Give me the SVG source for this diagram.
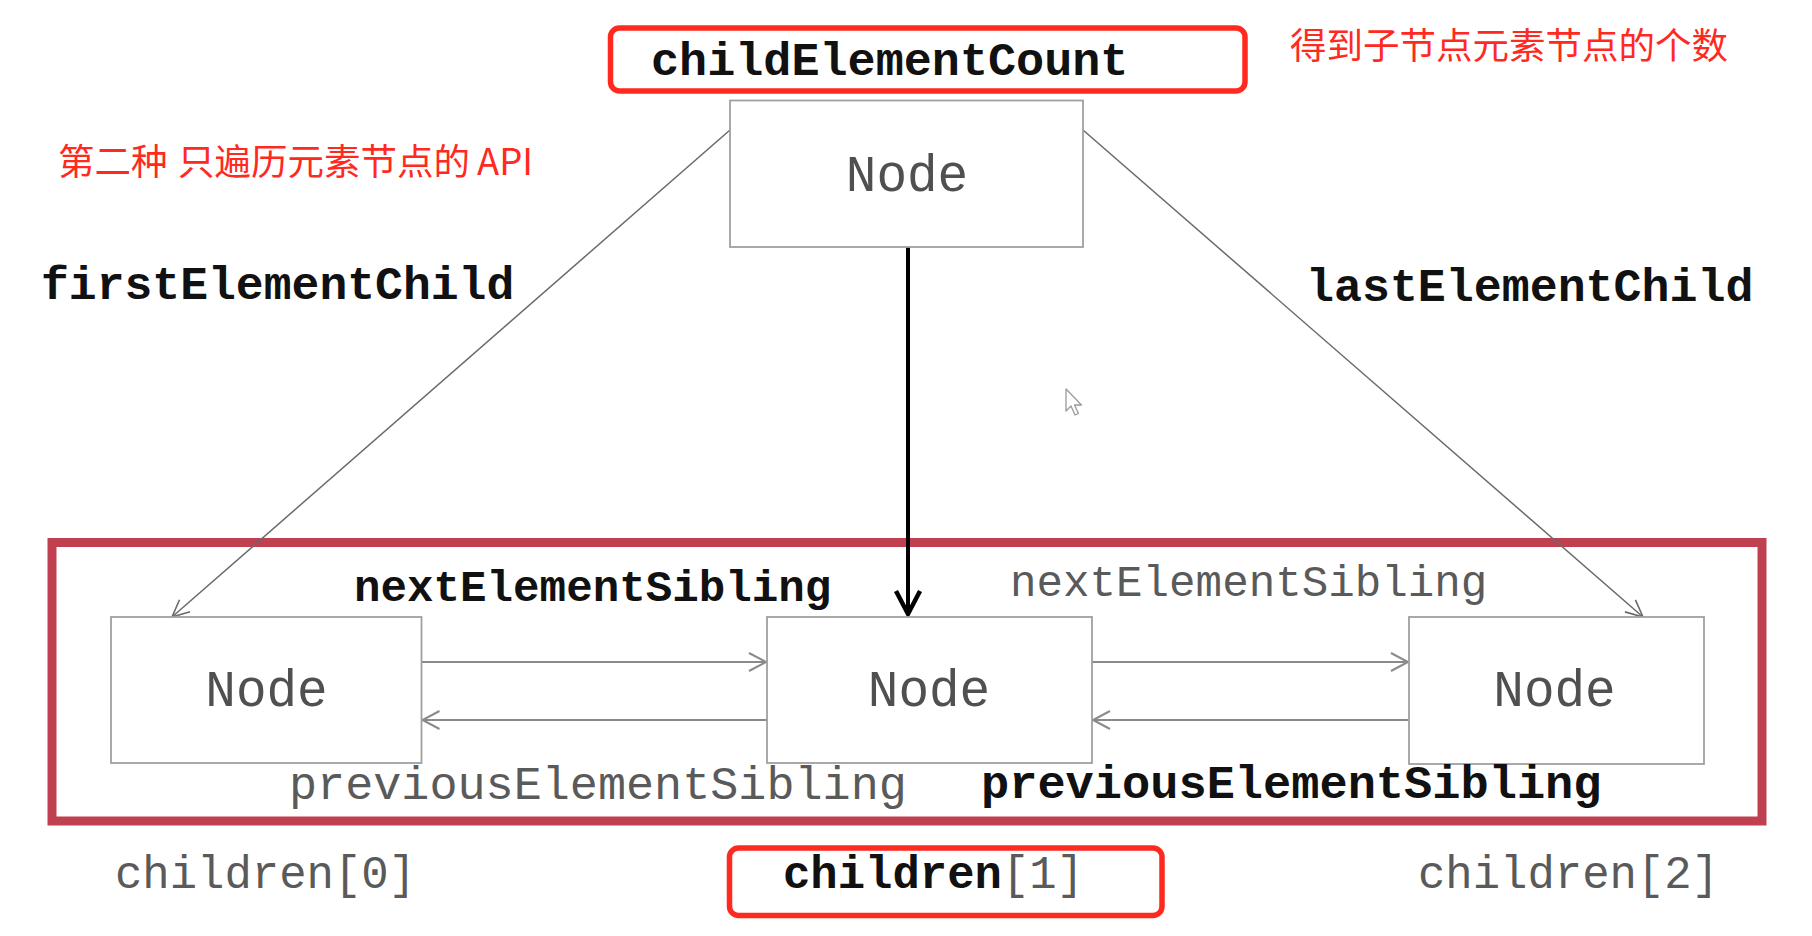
<svg xmlns="http://www.w3.org/2000/svg" width="1812" height="936" viewBox="0 0 1812 936">
  <style>
    .node { fill: #ffffff; stroke: #a0a0a0; stroke-width: 1.8; }
    .nodeText { font-family: "Liberation Mono", "Courier New", monospace; font-size: 51px; fill: #505050; }
    .mono { font-family: "Liberation Mono", "Courier New", monospace; }
    .bold { font-weight: bold; fill: #111111; }
    .reg { font-weight: normal; fill: #5a5a5a; }
    .cjk { font-family: "Noto Sans CJK SC", "Noto Sans", sans-serif; font-size: 36.5px; fill: #ff2a1f; }
    .hl { fill: none; stroke: #ff2a1f; stroke-width: 5.5; }
    .thin { fill: none; stroke: #8a8a8a; stroke-width: 1.8; }
    .diag { fill: none; stroke: #6a6a6a; stroke-width: 1.5; }
    .thick { fill: none; stroke: #000000; stroke-width: 4; }
  </style>
  <defs>
    <marker id="arrGray" markerUnits="userSpaceOnUse" markerWidth="24" markerHeight="24" viewBox="-20 -12 24 24" refX="0" refY="0" orient="auto">
      <path d="M -17 -9 L 0 0 L -17 9" fill="none" stroke="#8a8a8a" stroke-width="2"/>
    </marker>
    <marker id="arrDiag" markerUnits="userSpaceOnUse" markerWidth="24" markerHeight="24" viewBox="-20 -12 24 24" refX="0" refY="0" orient="auto">
      <path d="M -17 -8 L 0 0 L -17 8" fill="none" stroke="#6a6a6a" stroke-width="1.6"/>
    </marker>
    <marker id="arrBlack" markerUnits="userSpaceOnUse" markerWidth="34" markerHeight="34" viewBox="-28 -16 34 32" refX="0" refY="0" orient="auto">
      <path d="M -23 -12 L 0 0 L -23 12" fill="none" stroke="#000000" stroke-width="4.5"/>
    </marker>
  </defs>

  <rect x="0" y="0" width="1812" height="936" fill="#ffffff"/>

  <!-- group container (children) -->
  <g id="children-container">
    <rect x="52" y="542.5" width="1710" height="278.5" fill="none" stroke="#c0404f" stroke-width="9"/>
  </g>

  <!-- connectors -->
  <g id="connectors">
    <line class="diag" x1="730" y1="130" x2="172" y2="617" marker-end="url(#arrDiag)"/>
    <line class="diag" x1="1083" y1="130" x2="1643" y2="617" marker-end="url(#arrDiag)"/>
    <line class="thick" x1="908" y1="247" x2="908" y2="614" marker-end="url(#arrBlack)"/>
    <line class="thin" x1="421.5" y1="662" x2="766" y2="662" marker-end="url(#arrGray)"/>
    <line class="thin" x1="767" y1="720" x2="422.5" y2="720" marker-end="url(#arrGray)"/>
    <line class="thin" x1="1092" y1="662" x2="1408" y2="662" marker-end="url(#arrGray)"/>
    <line class="thin" x1="1409" y1="720" x2="1093" y2="720" marker-end="url(#arrGray)"/>
  </g>

  <!-- nodes -->
  <g id="node-parent">
    <rect class="node" x="730" y="100.5" width="353" height="146.5"/>
    <text class="nodeText" x="907" y="191" text-anchor="middle">Node</text>
  </g>
  <g id="node-child0">
    <rect class="node" x="111" y="617" width="310.5" height="146"/>
    <text class="nodeText" x="266.5" y="706" text-anchor="middle">Node</text>
  </g>
  <g id="node-child1">
    <rect class="node" x="767" y="617" width="325" height="146"/>
    <text class="nodeText" x="929" y="706" text-anchor="middle">Node</text>
  </g>
  <g id="node-child2">
    <rect class="node" x="1409" y="617" width="295" height="147"/>
    <text class="nodeText" x="1554.5" y="706" text-anchor="middle">Node</text>
  </g>

  <!-- highlight boxes -->
  <g id="childElementCount-box">
    <rect class="hl" x="610.5" y="28" width="634.5" height="63" rx="9" ry="9"/>
    <text class="mono bold" x="651" y="75" font-size="46.8">childElementCount</text>
  </g>
  <g id="children1-box">
    <rect class="hl" x="729.5" y="848" width="432.5" height="67.5" rx="9" ry="9"/>
    <text class="mono" x="783" y="888" font-size="45.6"><tspan class="bold">children</tspan><tspan class="reg">[1]</tspan></text>
  </g>

  <!-- labels -->
  <g id="labels">
    <text class="cjk" x="1290" y="59">得到子节点元素节点的个数</text>
    <text class="cjk" y="175"><tspan x="58">第二种</tspan><tspan x="178">只遍历元素节点的</tspan><tspan x="477">API</tspan></text>
    <text class="mono bold" x="41" y="299" font-size="46.4">firstElementChild</text>
    <text class="mono bold" x="1306" y="301" font-size="46.6">lastElementChild</text>
    <text class="mono bold" x="354" y="601" font-size="44.2">nextElementSibling</text>
    <text class="mono reg" x="1010" y="596" font-size="44.2">nextElementSibling</text>
    <text class="mono reg" x="289" y="799" font-size="46.8">previousElementSibling</text>
    <text class="mono bold" x="981" y="798" font-size="47">previousElementSibling</text>
    <text class="mono reg" x="115" y="888" font-size="45.6">children[0]</text>
    <text class="mono reg" x="1418" y="888" font-size="45.6">children[2]</text>
  </g>

  <!-- mouse pointer -->
  <g id="cursor">
    <path d="M 1066 389 L 1066 411 L 1071 406 L 1075 415 L 1078.5 413.5 L 1074.5 405 L 1081.5 405 Z" fill="#ffffff" stroke="#9a9a9a" stroke-width="1.3" stroke-linejoin="round"/>
  </g>
</svg>
